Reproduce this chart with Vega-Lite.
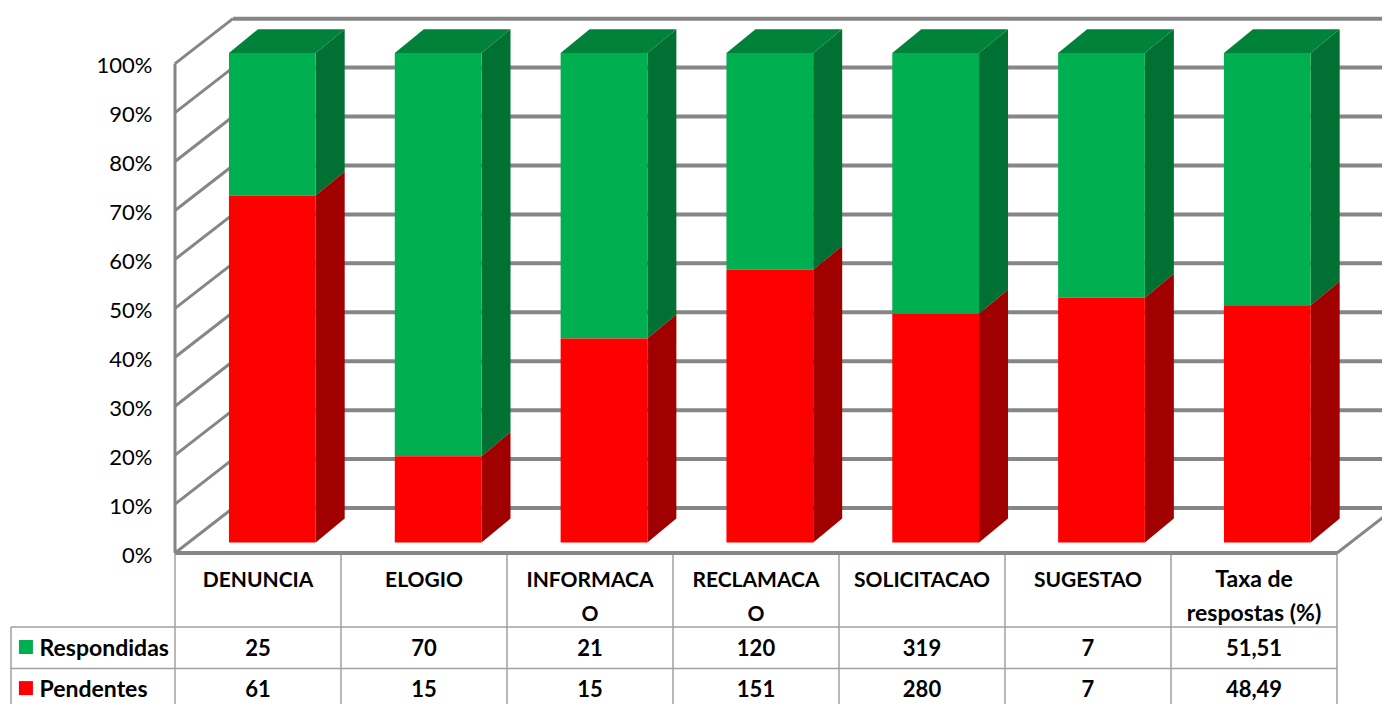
{
"$schema":"https://vega.github.io/schema/vega-lite/v6.json",
"width":1207,"height":704,
"autosize":{"type":"none"},
"padding":{"left":175,"top":0,"right":0,"bottom":0},
"background":"white",
"config":{"view":{"stroke":null},"font":"Lato"},
"datasets":{
"tabela":[
{"categoria":"DENUNCIA","ordem":0,"serie":"Respondidas","valor":25},
{"categoria":"DENUNCIA","ordem":0,"serie":"Pendentes","valor":61},
{"categoria":"ELOGIO","ordem":1,"serie":"Respondidas","valor":70},
{"categoria":"ELOGIO","ordem":1,"serie":"Pendentes","valor":15},
{"categoria":"INFORMACA\nO","ordem":2,"serie":"Respondidas","valor":21},
{"categoria":"INFORMACA\nO","ordem":2,"serie":"Pendentes","valor":15},
{"categoria":"RECLAMACA\nO","ordem":3,"serie":"Respondidas","valor":120},
{"categoria":"RECLAMACA\nO","ordem":3,"serie":"Pendentes","valor":151},
{"categoria":"SOLICITACAO","ordem":4,"serie":"Respondidas","valor":319},
{"categoria":"SOLICITACAO","ordem":4,"serie":"Pendentes","valor":280},
{"categoria":"SUGESTAO","ordem":5,"serie":"Respondidas","valor":7},
{"categoria":"SUGESTAO","ordem":5,"serie":"Pendentes","valor":7},
{"categoria":"Taxa de\nrespostas (%)","ordem":6,"serie":"Respondidas","valor":51.51},
{"categoria":"Taxa de\nrespostas (%)","ordem":6,"serie":"Pendentes","valor":48.49}
],
"grade":[{"pct":0},{"pct":10},{"pct":20},{"pct":30},{"pct":40},{"pct":50},{"pct":60},{"pct":70},{"pct":80},{"pct":90},{"pct":100}],
"colunas":[{"c":0},{"c":1},{"c":2},{"c":3},{"c":4},{"c":5},{"c":6},{"c":7}]
},
"layer":[
{"data":{"name":"grade"},
 "transform":[{"calculate":"datum.pct+9.193","as":"fundo"},{"calculate":"0.3494","as":"xa"},{"calculate":"7.2711","as":"xb"}],
 "mark":{"type":"rule","stroke":"#868686","strokeWidth":4},
 "encoding":{
  "x":{"field":"xa","type":"quantitative","scale":{"domain":[0,7.2711],"nice":false,"zero":false},"axis":null},
  "x2":{"field":"xb"},
  "y":{"field":"fundo","type":"quantitative","scale":{"domain":[-30.85,113],"nice":false,"zero":false},
   "axis":{"orient":"left","values":[0,10,20,30,40,50,60,70,80,90,100],"labelExpr":"datum.value+'%'","title":null,"grid":false,"domain":false,"ticks":false,"labelPadding":23,"labelFontSize":22,"labelColor":"#000000","labelFont":"Lato","labelFontWeight":"normal","labelOffset":2}}
 }},
{"data":{"name":"grade"},
 "transform":[{"calculate":"datum.pct+9.193","as":"fundo"},{"calculate":"0","as":"xa"},{"calculate":"0.3494","as":"xb"}],
 "mark":{"type":"rule","stroke":"#868686","strokeWidth":3},
 "encoding":{"x":{"field":"xa","type":"quantitative"},"x2":{"field":"xb"},"y":{"field":"pct","type":"quantitative"},"y2":{"field":"fundo"}}},
{"mark":{"type":"rule","stroke":"#868686","strokeWidth":3},
 "data":{"values":[{"xa":0,"xb":0,"ya":0,"yb":100}]},
 "encoding":{"x":{"field":"xa","type":"quantitative"},"x2":{"field":"xb"},"y":{"field":"ya","type":"quantitative"},"y2":{"field":"yb"}}},
{"data":{"name":"colunas"},
 "transform":[{"calculate":"0","as":"ya"},{"calculate":"-30.85","as":"yb"}],
 "mark":{"type":"rule","stroke":"#a0a0a0","strokeWidth":1.5},
 "encoding":{"x":{"field":"c","type":"quantitative"},"y":{"field":"ya","type":"quantitative"},"y2":{"field":"yb"}}},
{"mark":{"type":"rule","stroke":"#868686","strokeWidth":4},
 "data":{"values":[{"xa":0,"xb":7,"ya":0,"yb":0}]},
 "encoding":{"x":{"field":"xa","type":"quantitative"},"x2":{"field":"xb"},"y":{"field":"ya","type":"quantitative"},"y2":{"field":"yb"}}},
{"mark":{"type":"rule","stroke":"#868686","strokeWidth":3},
 "data":{"values":[{"xa":7,"xb":7.3494,"ya":0,"yb":9.193}]},
 "encoding":{"x":{"field":"xa","type":"quantitative"},"x2":{"field":"xb"},"y":{"field":"ya","type":"quantitative"},"y2":{"field":"yb"}}},
{"data":{"name":"tabela"},
 "transform":[
  {"stack":"valor","groupby":["categoria"],"sort":[{"field":"serie","order":"ascending"}],"offset":"normalize","as":["v0","v1"]},
  {"calculate":"datum.ordem*0.999+0.325","as":"xa"},{"calculate":"datum.ordem*0.999+0.8475","as":"xb"},
  {"calculate":"2.145+datum.v0*100","as":"ya"},{"calculate":"2.145+datum.v1*100","as":"yb"},
  {"calculate":"[0,1]","as":"p"},{"flatten":["p"]},
  {"calculate":"datum.xb+datum.p*0.1747","as":"sx"},
  {"calculate":"datum.ya+datum.p*4.903","as":"sa"},
  {"calculate":"datum.yb+datum.p*4.903","as":"sb"}
 ],
 "mark":{"type":"area","orient":"vertical","opacity":1},
 "encoding":{
  "x":{"field":"sx","type":"quantitative"},
  "y":{"field":"sa","type":"quantitative","stack":null},
  "y2":{"field":"sb"},
  "detail":{"field":"categoria"},
  "color":{"field":"serie","type":"nominal","legend":null,"scale":{"domain":["Respondidas","Pendentes"],"range":["#007033","#A10000"]}}
 }},
{"data":{"name":"tabela"},
 "transform":[
  {"filter":"datum.serie=='Respondidas'"},
  {"calculate":"[0,1]","as":"p"},{"flatten":["p"]},
  {"calculate":"datum.ordem*0.999+0.325+datum.p*0.1747","as":"xa"},
  {"calculate":"datum.ordem*0.999+0.8475+datum.p*0.1747","as":"xb"},
  {"calculate":"102.145+datum.p*4.903","as":"yt"}
 ],
 "mark":{"type":"area","orient":"horizontal","color":"#00823A","opacity":1},
 "encoding":{
  "y":{"field":"yt","type":"quantitative"},
  "x":{"field":"xa","type":"quantitative","stack":null},
  "x2":{"field":"xb"},
  "detail":{"field":"categoria"}
 }},
{"data":{"name":"tabela"},
 "transform":[
  {"stack":"valor","groupby":["categoria"],"sort":[{"field":"serie","order":"ascending"}],"offset":"normalize","as":["v0","v1"]},
  {"calculate":"datum.ordem*0.999+0.325","as":"xa"},{"calculate":"datum.ordem*0.999+0.8475","as":"xb"},
  {"calculate":"2.145+datum.v0*100","as":"ya"},{"calculate":"2.145+datum.v1*100","as":"yb"}
 ],
 "mark":{"type":"rect","opacity":1},
 "encoding":{
  "x":{"field":"xa","type":"quantitative"},"x2":{"field":"xb"},
  "y":{"field":"ya","type":"quantitative"},"y2":{"field":"yb"},
  "fill":{"field":"serie","type":"nominal","legend":null,"scale":{"domain":["Respondidas","Pendentes"],"range":["#00B050","#FF0000"]}}
 }},
{"data":{"values":[{"ya":-15.12},{"ya":-23.6}]},
 "transform":[{"calculate":"-0.988","as":"xa"},{"calculate":"7","as":"xb"}],
 "mark":{"type":"rule","stroke":"#a0a0a0","strokeWidth":1.5},
 "encoding":{"x":{"field":"xa","type":"quantitative"},"x2":{"field":"xb"},"y":{"field":"ya","type":"quantitative"}}},
{"data":{"values":[{"xa":-0.988,"ya":-15.12,"yb":-30.85}]},
 "mark":{"type":"rule","stroke":"#a0a0a0","strokeWidth":1.5},
 "encoding":{"x":{"field":"xa","type":"quantitative"},"y":{"field":"ya","type":"quantitative"},"y2":{"field":"yb"}}},
{"data":{"name":"tabela"},
 "transform":[{"filter":"datum.serie=='Pendentes' && datum.ordem<6"},{"calculate":"datum.ordem+0.5","as":"xc"},{"calculate":"-3.4","as":"yc"}],
 "mark":{"type":"text","font":"Lato","fontWeight":"bold","fontSize":21,"align":"center","baseline":"top","lineBreak":"\n","lineHeight":34,"color":"#000000"},
 "encoding":{"x":{"field":"xc","type":"quantitative"},"y":{"field":"yc","type":"quantitative"},"text":{"field":"categoria"}}},
{"data":{"name":"tabela"},
 "transform":[{"filter":"datum.serie=='Pendentes' && datum.ordem==6"},{"calculate":"datum.ordem+0.5","as":"xc"},{"calculate":"-3.2","as":"yc"}],
 "mark":{"type":"text","font":"Lato","fontWeight":"bold","fontSize":23,"align":"center","baseline":"top","lineBreak":"\n","lineHeight":34,"color":"#000000"},
 "encoding":{"x":{"field":"xc","type":"quantitative"},"y":{"field":"yc","type":"quantitative"},"text":{"field":"categoria"}}},
{"data":{"name":"tabela"},
 "transform":[{"calculate":"datum.ordem+0.5","as":"xc"},{"calculate":"datum.serie=='Respondidas'?-19.7:-27.9","as":"yc"},{"calculate":"replace(''+datum.valor,'.',',')","as":"rotulo"}],
 "mark":{"type":"text","font":"Lato","fontWeight":"bold","fontSize":22,"align":"center","baseline":"middle","color":"#000000"},
 "encoding":{"x":{"field":"xc","type":"quantitative"},"y":{"field":"yc","type":"quantitative"},"text":{"field":"rotulo"}}},
{"data":{"name":"tabela"},
 "transform":[{"filter":"datum.ordem==0"},{"calculate":"-0.816","as":"xc"},{"calculate":"datum.serie=='Respondidas'?-19.7:-27.9","as":"yc"}],
 "mark":{"type":"text","font":"Lato","fontWeight":"bold","fontSize":23,"align":"left","baseline":"middle","color":"#000000"},
 "encoding":{"x":{"field":"xc","type":"quantitative"},"y":{"field":"yc","type":"quantitative"},"text":{"field":"serie"}}},
{"data":{"name":"tabela"},
 "transform":[{"filter":"datum.ordem==0"},{"calculate":"-0.898","as":"xc"},{"calculate":"datum.serie=='Respondidas'?-19.2:-27.6","as":"yc"}],
 "mark":{"type":"point","shape":"square","filled":true,"size":196,"opacity":1},
 "encoding":{"x":{"field":"xc","type":"quantitative"},"y":{"field":"yc","type":"quantitative"},
  "fill":{"field":"serie","type":"nominal","legend":null,"scale":{"domain":["Respondidas","Pendentes"],"range":["#00B050","#FF0000"]}}}}
],
"resolve":{"scale":{"color":"independent","fill":"shared"}}
}
